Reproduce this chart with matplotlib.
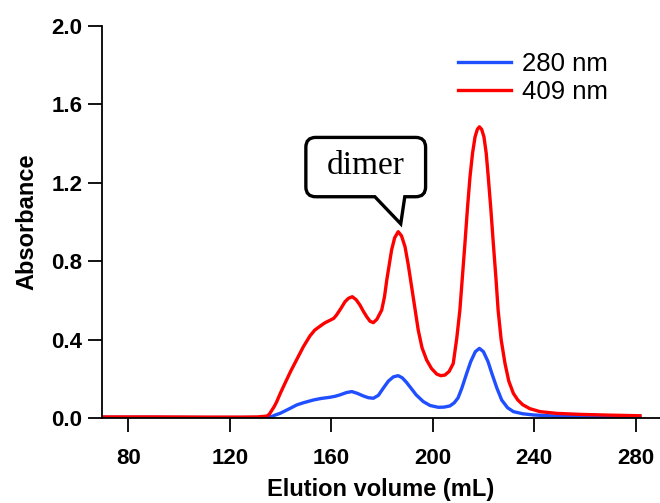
import numpy as np
import matplotlib
matplotlib.use("Agg")
import matplotlib.pyplot as plt
from matplotlib.path import Path
from matplotlib.patches import PathPatch

# elution volume (mL) and absorbance
vol_409 = [69.5, 90, 110, 125, 131, 134.5, 135.5, 136.5, 137.5, 138.5, 140, 141.8, 144,
           146.4, 149, 151.6, 153.5, 155.6, 157.5, 159.5, 161, 162.1, 163.8, 165.4,
           166.8, 168.3, 169.8, 171.3, 172.7, 174, 175.3, 176.6, 178, 179.9, 181,
           181.9, 183.8, 185, 186.4, 187.7, 189.1, 190.4, 191.7, 193, 194.3, 195.8,
           197.6, 199.5, 201.6, 203.2, 204.8, 206.5, 208.1, 209.5, 210.7, 211.7,
           212.7, 213.7, 214.7, 215.7, 216.7, 217.6, 218.4, 219.3, 220.2, 221.1,
           221.9, 222.9, 223.9, 224.9, 225.8, 227, 228.5, 230, 231.8, 233.5, 235.5,
           238.3, 242.3, 248.9, 258, 270, 281.7]
abs_409 = [0.008, 0.008, 0.007, 0.007, 0.008, 0.012, 0.02, 0.04, 0.06, 0.085, 0.13, 0.18, 0.24,
           0.30, 0.365, 0.42, 0.45, 0.47, 0.487, 0.50, 0.51, 0.527, 0.56, 0.594,
           0.612, 0.62, 0.605, 0.578, 0.545, 0.518, 0.495, 0.488, 0.505, 0.552, 0.62,
           0.705, 0.858, 0.92, 0.951, 0.93, 0.874, 0.78, 0.67, 0.56, 0.45, 0.36,
           0.298, 0.255, 0.226, 0.218, 0.221, 0.24, 0.28, 0.41, 0.55, 0.72,
           0.89, 1.07, 1.23, 1.35, 1.434, 1.472, 1.485, 1.472, 1.434, 1.35,
           1.23, 1.07, 0.89, 0.72, 0.55, 0.40, 0.28, 0.19, 0.128, 0.095, 0.07,
           0.05, 0.035, 0.026, 0.021, 0.017, 0.014]

vol_280 = [69.5, 90, 110, 125, 131, 134.5, 136.5, 138, 139.8, 142, 144, 146.4, 149, 152.9,
           156, 159.5, 161.5, 163.4, 166, 168.1, 170.3, 172.6, 174.6, 176.6, 178.6,
           180.5, 182.5, 184.5, 186.4, 188, 189.6, 191, 193.5, 196.3, 199, 202.2,
           204.5, 206.8, 208.5, 210, 211.5, 213.4, 215, 216.8, 218.4, 220, 221.8,
           223.3, 225.3, 227.2, 229.5, 231.8, 235.5, 239.7, 248.9, 260, 281.7]
abs_280 = [0.006, 0.006, 0.005, 0.005, 0.005, 0.005, 0.01, 0.018, 0.026, 0.04, 0.053, 0.069, 0.08, 0.094,
           0.102, 0.108, 0.113, 0.12, 0.132, 0.137, 0.128, 0.115, 0.106, 0.103, 0.118,
           0.154, 0.19, 0.212, 0.218, 0.207, 0.185, 0.162, 0.12, 0.086, 0.066, 0.057,
           0.058, 0.064, 0.08, 0.105, 0.155, 0.23, 0.29, 0.34, 0.357, 0.34, 0.29,
           0.23, 0.155, 0.094, 0.055, 0.035, 0.024, 0.018, 0.012, 0.009, 0.007]

fig = plt.figure(figsize=(6.6, 5.03), dpi=100)
ax = fig.add_axes([0.154, 0.168, 0.846, 0.781])

ax.plot(vol_280, abs_280, color="#1f4fff", lw=2.4, label="280 nm", solid_joinstyle="round")
ax.plot(vol_409, abs_409, color="#ff0000", lw=2.4, label="409 nm", solid_joinstyle="round")

ax.set_xlim(69.5, 289.6)
ax.set_ylim(0, 2.0)
ax.set_xticks([80, 120, 160, 200, 240, 280])
ax.set_yticks([0.0, 0.4, 0.8, 1.2, 1.6, 2.0])
ax.set_yticklabels(["%.1f" % t for t in ax.get_yticks()])
for s in ["top", "right"]:
    ax.spines[s].set_visible(False)
for s in ["left", "bottom"]:
    ax.spines[s].set_linewidth(1.3)
ax.tick_params(direction="out", length=10, width=1.3, labelsize=16)
ax.tick_params(axis="x", pad=11)
ax.tick_params(axis="y", pad=4)
for lab in ax.get_xticklabels() + ax.get_yticklabels():
    lab.set_fontweight("bold")
    lab.set_fontfamily("Liberation Sans")
ax.set_xlabel("Elution volume (mL)", fontsize=17, fontweight="bold",
              family="Liberation Sans", labelpad=7)
ax.set_ylabel("Absorbance", fontsize=17, fontweight="bold",
              family="Liberation Sans", labelpad=9)

leg = ax.legend(loc="upper left", bbox_to_anchor=(0.62, 0.96), frameon=False,
                prop={"family": "Liberation Sans", "size": 18.5},
                handlelength=2.05, handletextpad=0.45, labelspacing=0.17,
                borderaxespad=0)

# speech-bubble callout pointing at the dimer peak
i_pk = int(np.argmax(np.array(abs_409) * (np.array(vol_409) < 200)))
tip_x, tip_y = vol_409[i_pk], abs_409[i_pk] + 0.04
x0, x1, y0, y1 = 150.0, 197.2, 1.129, 1.431
rx, ry = 3.9, 0.05
pl, pr = 177.2, 189.0
verts = [(x0 + rx, y0), (pl, y0), (tip_x + 1.0, tip_y), (pr, y0), (x1 - rx, y0),
         (x1, y0), (x1, y0 + ry), (x1, y1 - ry), (x1, y1), (x1 - rx, y1),
         (x0 + rx, y1), (x0, y1), (x0, y1 - ry), (x0, y0 + ry), (x0, y0),
         (x0 + rx, y0), (x0 + rx, y0)]
codes = [Path.MOVETO, Path.LINETO, Path.LINETO, Path.LINETO, Path.LINETO,
         Path.CURVE3, Path.CURVE3, Path.LINETO, Path.CURVE3, Path.CURVE3,
         Path.LINETO, Path.CURVE3, Path.CURVE3, Path.LINETO, Path.CURVE3, Path.CURVE3,
         Path.CLOSEPOLY]
ax.add_patch(PathPatch(Path(verts, codes), facecolor="white", edgecolor="black",
                       lw=2.4, joinstyle="miter", zorder=5))
ax.text((x0 + x1) / 2, (y0 + y1) / 2 + 0.005, "dimer", family="Liberation Serif",
        fontsize=24, ha="center", va="center", zorder=6)

fig.savefig("out.png", dpi=100)
